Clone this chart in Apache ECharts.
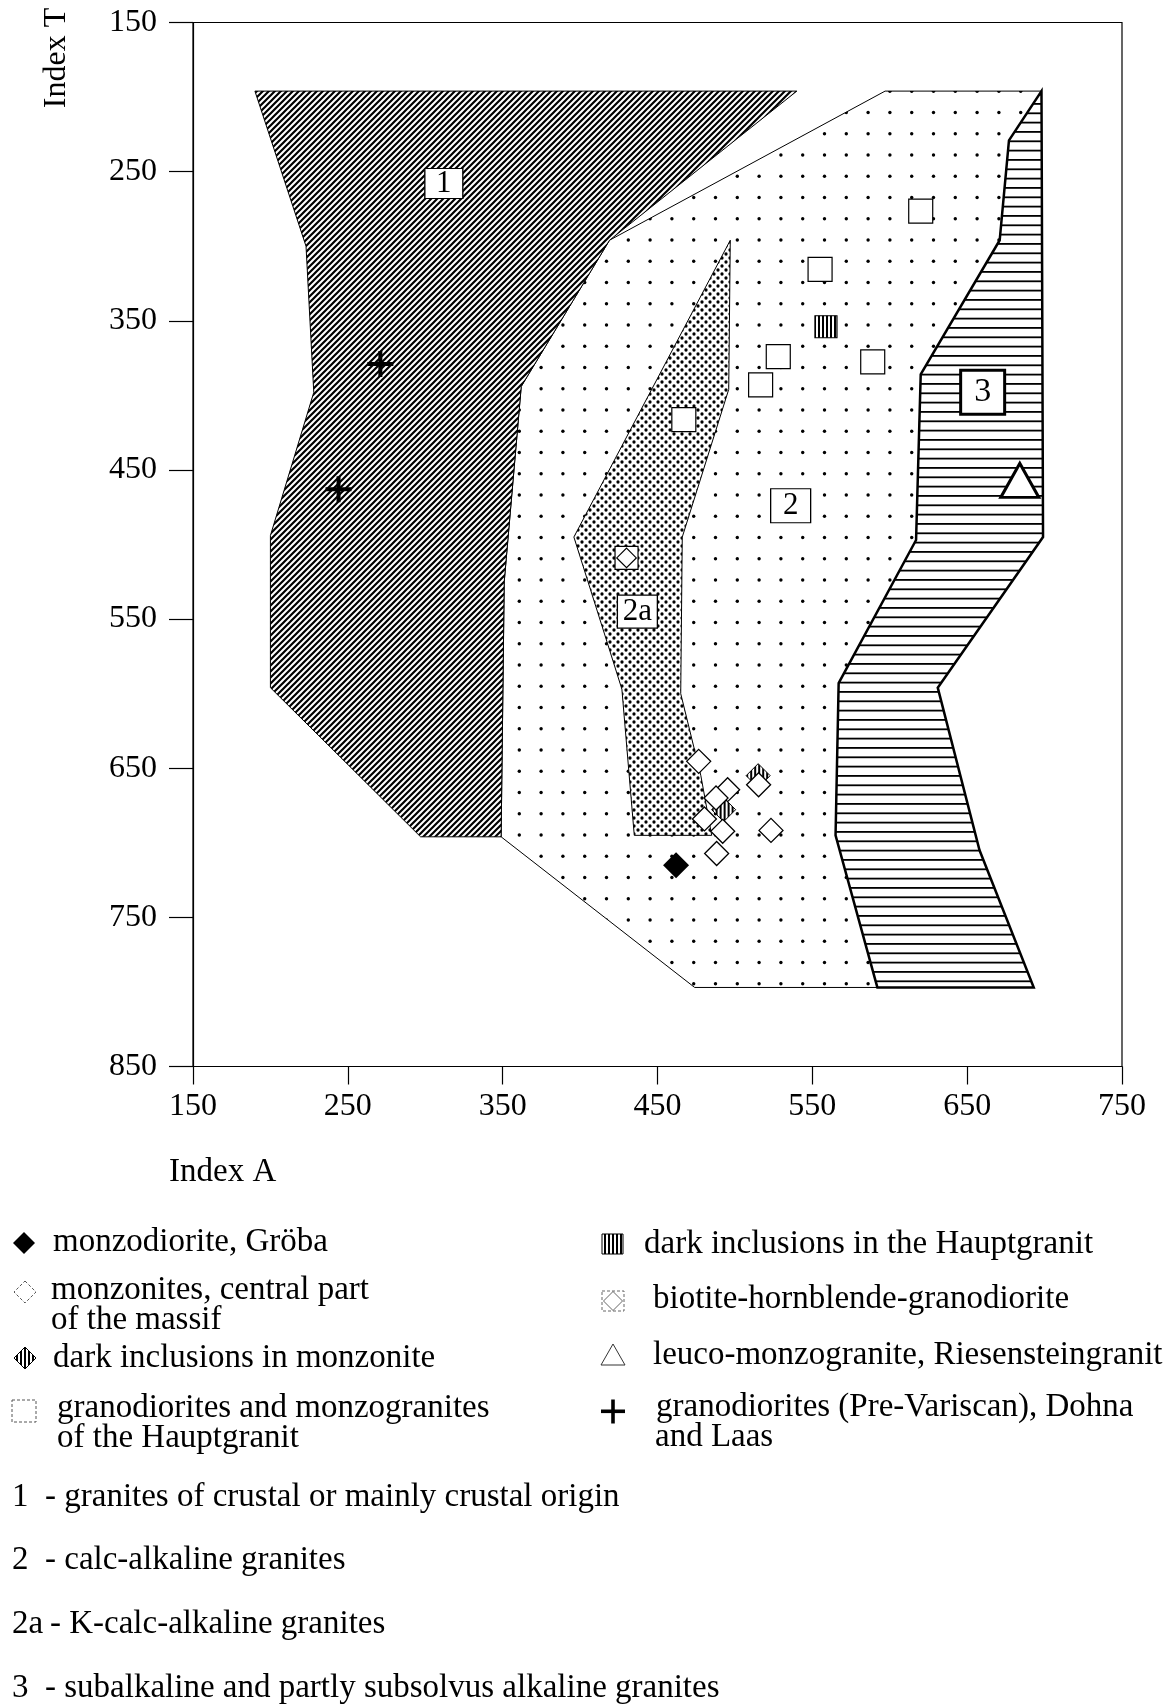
<!DOCTYPE html>
<html>
<head>
<meta charset="utf-8">
<title>Index A - Index T</title>
<script src="https://cdn.jsdelivr.net/npm/echarts@6.0.0/dist/echarts.min.js"></script>
<style>
    html, body { margin: 0; padding: 0; background: #fff; }
    #main { width: 1173px; height: 1706px; }
</style>
</head>
<body>
<div id="main"></div>
<script>
// axis ticks
var xTicks = [150, 250, 350, 450, 550, 650, 750];
var yTicks = [150, 250, 350, 450, 550, 650, 750, 850];

// fields (Index A, Index T)
var field1 = [[190, 196], [540, 196], [419, 296], [362, 394], [351, 525], [349, 696], [297, 696], [200, 596], [200, 494], [228, 398], [223, 300]];
var field2 = [[419, 296], [597, 196], [698, 196], [677, 229], [671, 296], [620, 386], [617, 497], [567, 593], [565, 695], [592, 797], [474, 797], [349, 696], [351, 525], [362, 394]];
var field2a = [[497, 296], [496, 396], [466, 495], [465, 600], [478, 655], [485, 695], [435, 695], [427, 597], [417, 564], [396, 495]];
var field3 = [[698, 196], [699, 495], [631, 596], [658, 705], [693, 797], [592, 797], [565, 695], [567, 593], [617, 497], [620, 386], [671, 296], [677, 229]];

var fieldNames = ['1', '2', '2a', '3'];
var fieldLabelPos = [[312, 258], [536, 474], [437, 545], [660, 398]];

// samples
var groba = [[462, 715]];
var monzonites = [[476.6, 645.4], [495.3, 664.4], [487.8, 670], [480.3, 684], [492.1, 692.3], [488.2, 707.2], [523.3, 691.7], [515.3, 661.1]];
var darkMonzonite = [[492.7, 677.8], [515, 655]];
var hauptgranit = [[620, 276.5], [555, 315.5], [528, 374], [589, 377.5], [516.6, 393], [467, 416.3]];
var darkHauptgranit = [[558.8, 354]];
var biotite = [[430, 509]];
var riesenstein = [[684, 457]];
var dohna = [[271, 379], [244, 463]];

var legendLeft = ['monzodiorite, Gröba', 'monzonites, central part', 'of the massif', 'dark inclusions in monzonite', 'granodiorites and monzogranites', 'of the Hauptgranit'];
var legendRight = ['dark inclusions in the Hauptgranit', 'biotite-hornblende-granodiorite', 'leuco-monzogranite, Riesensteingranit', 'granodiorites (Pre-Variscan), Dohna', 'and Laas'];
var fieldDescr = ['- granites of crustal or mainly crustal origin', '- calc-alkaline granites', '- K-calc-alkaline granites', '- subalkaline and partly subsolvus alkaline granites'];

var FONT = '"Liberation Serif", "DejaVu Serif", serif';

// 图案填充
function makePattern(w, h, draw, scale) {
    var c = document.createElement('canvas');
    c.width = w;
    c.height = h;
    var ctx = c.getContext('2d');
    ctx.fillStyle = '#fff';
    ctx.fillRect(0, 0, w, h);
    ctx.fillStyle = '#000';
    ctx.strokeStyle = '#000';
    draw(ctx, w, h);
    var p = { image: c, repeat: 'repeat' };
    // symbols are drawn at unit size and scaled, so undo that for the tile
    if (scale) {
        p.scaleX = scale;
        p.scaleY = scale;
    }
    return p;
}

var hatch = makePattern(6, 6, function (ctx) {
    ctx.lineWidth = 2.2;
    ctx.beginPath();
    ctx.moveTo(0, 6); ctx.lineTo(6, 0);
    ctx.moveTo(-1, 1); ctx.lineTo(1, -1);
    ctx.moveTo(5, 7); ctx.lineTo(7, 5);
    ctx.stroke();
});

var sparseDots = makePattern(109, 85, function (ctx) {
    for (var k = 0; k < 5; k++) {
        for (var m = 0; m < 4; m++) {
            ctx.beginPath();
            ctx.arc(17.9 + 21.8 * k, 6.25 + 21.25 * m, 1.7, 0, Math.PI * 2);
            ctx.fill();
        }
    }
});

var denseDots = makePattern(8, 8, function (ctx) {
    ctx.beginPath();
    ctx.arc(2, 2, 1.65, 0, Math.PI * 2);
    ctx.fill();
    ctx.beginPath();
    ctx.arc(6, 6, 1.65, 0, Math.PI * 2);
    ctx.fill();
});

var hLines = makePattern(4, 28, function (ctx) {
    [1.3, 10.6, 19.9].forEach(function (y) {
        ctx.fillRect(0, y - 0.9, 4, 1.8);
    });
});

function stripeDraw(ctx) {
    ctx.fillRect(0, 0, 2, 4);
}
var vStripes = makePattern(4, 4, stripeDraw);
var stripeSquare = makePattern(4, 4, stripeDraw, 2 / 22);
var stripeDiamond = makePattern(4, 4, stripeDraw, 2 / 24);

// 区域多边形
function fieldSeries(name, pts, fill, lineWidth, z) {
    return {
        type: 'custom',
        name: name,
        z: z,
        silent: true,
        data: [pts[0]],
        renderItem: function (params, api) {
            var points = pts.map(function (p) { return api.coord(p); });
            return {
                type: 'polygon',
                shape: { points: points },
                style: { fill: fill, stroke: '#000', lineWidth: lineWidth }
            };
        }
    };
}

function pointSeries(name, data, symbol, size, style, z) {
    style.opacity = 1;
    return {
        type: 'scatter',
        name: name,
        z: z,
        silent: true,
        data: data,
        symbol: symbol,
        symbolSize: size,
        itemStyle: style
    };
}

var plusPath = 'path://M11,0 H15 V11 H26 V15 H15 V26 H11 V15 H0 V11 H11 Z';
var boxDiamondPath = 'path://M0,0 H20 V20 H0 Z M10,1.5 L18.5,10 L10,18.5 L1.5,10 Z';

var labelSizes = [[38, 30], [40, 34], [40, 33], [44, 44]];
var labelSeries = fieldNames.map(function (n, i) {
    return {
        type: 'scatter',
        z: 8,
        silent: true,
        data: [fieldLabelPos[i]],
        symbol: 'rect',
        symbolSize: labelSizes[i],
        itemStyle: { color: '#fff', opacity: 1, borderColor: '#000', borderWidth: n === '3' ? 3 : 1.2 },
        label: {
            show: true,
            position: 'inside',
            formatter: n,
            color: '#000',
            fontFamily: FONT,
            fontSize: n === '3' ? 34 : 31
        }
    };
});

// 图例 (legend drawn below the plot)
var graphics = [];
function txt(x, y, s, extra) {
    var el = {
        type: 'text', x: x, y: y, silent: true,
        style: { text: s, fill: '#000', font: '33px ' + FONT, align: 'left', verticalAlign: 'middle' }
    };
    if (extra) { for (var k in extra) el[k] = extra[k]; }
    graphics.push(el);
}
function diamond(cx, cy, r, style) {
    graphics.push({ type: 'polygon', silent: true, shape: { points: [[cx, cy - r], [cx + r, cy], [cx, cy + r], [cx - r, cy]] }, style: style });
}

txt(57, 58, 'Index T', { rotation: Math.PI / 2, style: { text: 'Index T', fill: '#000', font: '32px ' + FONT, align: 'center', verticalAlign: 'middle' } });
txt(169, 1172, 'Index A');

diamond(24, 1243, 11, { fill: '#000' });
diamond(25, 1292, 11, { fill: '#fff', stroke: '#555', lineWidth: 1, lineDash: [3, 2] });
diamond(25, 1358, 11, { fill: vStripes, stroke: '#000', lineWidth: 1 });
graphics.push({ type: 'rect', silent: true, shape: { x: 12, y: 1400, width: 24, height: 22 }, style: { fill: '#fff', stroke: '#555', lineWidth: 1, lineDash: [3, 2] } });

graphics.push({ type: 'rect', silent: true, shape: { x: 602, y: 1234, width: 21, height: 20 }, style: { fill: vStripes, stroke: '#000', lineWidth: 1 } });
graphics.push({ type: 'rect', silent: true, shape: { x: 602, y: 1291, width: 22, height: 20 }, style: { fill: '#fff', stroke: '#666', lineWidth: 1, lineDash: [3, 2] } });
diamond(613, 1301, 9.5, { fill: 'none', stroke: '#666', lineWidth: 1 });
graphics.push({ type: 'polygon', silent: true, shape: { points: [[601, 1365], [625, 1365], [613, 1344]] }, style: { fill: '#fff', stroke: '#333', lineWidth: 1 } });
graphics.push({ type: 'rect', silent: true, shape: { x: 601, y: 1409.5, width: 24, height: 3.6 }, style: { fill: '#000' } });
graphics.push({ type: 'rect', silent: true, shape: { x: 611.2, y: 1399.5, width: 3.6, height: 24 }, style: { fill: '#000' } });

var leftPos = [[53, 1242], [51, 1290], [51, 1320], [53, 1358], [57, 1408], [57, 1438]];
legendLeft.forEach(function (s, i) { txt(leftPos[i][0], leftPos[i][1], s); });
var rightPos = [[644, 1244], [653, 1299], [653, 1355], [656, 1407], [655, 1437]];
legendRight.forEach(function (s, i) { txt(rightPos[i][0], rightPos[i][1], s); });

var descrY = [1497, 1560, 1624, 1688];
fieldDescr.forEach(function (s, i) {
    txt(12, descrY[i], fieldNames[i]);
    txt(i === 2 ? 50 : 45, descrY[i], s);
});

var myChart = echarts.init(document.getElementById('main'), null, { renderer: 'canvas' });

var option = {
    backgroundColor: '#fff',
    animation: false,
    grid: {
        left: 193, top: 22.5, width: 929, height: 1044,
        show: true, borderColor: '#000', borderWidth: 1.2, backgroundColor: 'transparent'
    },
    xAxis: {
        type: 'value', min: 150, max: 750,
        axisLine: { show: true, onZero: false, lineStyle: { color: '#000', width: 1.2 } },
        axisTick: { show: true, length: 18, customValues: xTicks, lineStyle: { color: '#000', width: 1.2 } },
        axisLabel: { customValues: xTicks, margin: 24, color: '#000', fontFamily: FONT, fontSize: 32 },
        splitLine: { show: false }
    },
    yAxis: {
        type: 'value', min: 150, max: 850, inverse: true,
        axisLine: { show: true, onZero: false, lineStyle: { color: '#000', width: 1.2 } },
        axisTick: { show: true, length: 24, customValues: yTicks, lineStyle: { color: '#000', width: 1.2 } },
        axisLabel: { customValues: yTicks, margin: 36, color: '#000', fontFamily: FONT, fontSize: 32 },
        splitLine: { show: false }
    },
    graphic: graphics,
    series: [
        fieldSeries('2', field2, sparseDots, 1, 1),
        fieldSeries('2a', field2a, denseDots, 1, 2),
        fieldSeries('1', field1, hatch, 1, 3),
        fieldSeries('3', field3, hLines, 2.5, 3),
        pointSeries('dark inclusions in monzonite', darkMonzonite, 'diamond', 24, { color: stripeDiamond, borderColor: '#000', borderWidth: 1 }, 5),
        pointSeries('monzonites, central part of the massif', monzonites, 'diamond', 24, { color: '#fff', borderColor: '#000', borderWidth: 1.3 }, 6),
        pointSeries('monzodiorite, Gröba', groba, 'diamond', 26, { color: '#000' }, 6),
        pointSeries('granodiorites and monzogranites of the Hauptgranit', hauptgranit, 'rect', 24, { color: '#fff', borderColor: '#000', borderWidth: 1.2 }, 6),
        pointSeries('dark inclusions in the Hauptgranit', darkHauptgranit, 'rect', 22, { color: stripeSquare, borderColor: '#000', borderWidth: 1.2 }, 6),
        pointSeries('biotite-hornblende-granodiorite', biotite, boxDiamondPath, 23, { color: '#fff', borderColor: '#000', borderWidth: 1.2 }, 6),
        pointSeries('leuco-monzogranite, Riesensteingranit', riesenstein, 'triangle', [38, 34], { color: '#fff', borderColor: '#000', borderWidth: 3 }, 6),
        pointSeries('granodiorites (Pre-Variscan), Dohna and Laas', dohna, plusPath, 26, { color: '#000' }, 6)
    ].concat(labelSeries)
};

myChart.setOption(option);
</script>
</body>
</html>
